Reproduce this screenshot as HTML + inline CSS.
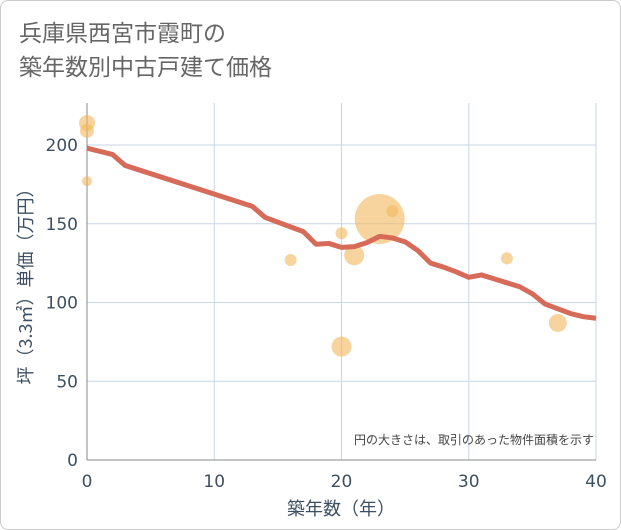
<!DOCTYPE html>
<html><head><meta charset="utf-8"><style>
html,body{margin:0;background:#fff;font-family:"DejaVu Sans","Noto Sans CJK JP",sans-serif}
#wrap{position:relative;width:619px;height:528px;border:1px solid #ccc;border-radius:8px;overflow:hidden;background:#fff}
#title{position:absolute;left:18px;top:13px;font-size:23px;line-height:34px;color:#666;font-family:"Noto Sans CJK JP",sans-serif}
</style></head><body>
<div id="wrap">
<div id="title">兵庫県西宮市霞町の<br>築年数別中古戸建て価格</div>
<svg id="chart" width="621" height="530" style="position:absolute;left:-1px;top:-1px"></svg>
</div>
<script>
const xTicks=[0,10,20,30,40];
const yTicks=[0,50,100,150,200];
const lineYears=[0,2,3,13,14,17,18,19,20,21,22,23,24,25,26,27,28,29,30,31,32,33,34,35,36,37,38,39,40];
const linePrices=[198,194,187,161,154,145,137,137.5,135,135.5,138,142,141,138.5,133,125,122.5,119.5,116,117.5,115,112.5,110,105.5,99,96,93,91,90];
const bubbleYears=[0,0,0,16,20,20,21,23,24,33,37];
const bubblePrices=[214,209,177,127,144,72,130,153,158,128,87];
const bubbleSizes=[8,7,5,6,6,10,10,25,6,6,9];
const NS="http://www.w3.org/2000/svg";
const svg=document.getElementById('chart');
const X0=87,X1=596,Y0=460,YT=103;
const xs=v=>X0+(X1-X0)*v/40;
const ys=v=>Y0-v*1.575;
function mk(t,a){const e=document.createElementNS(NS,t);for(const k in a)e.setAttribute(k,a[k]);svg.appendChild(e);return e;}
const bg=mk('rect',{x:X0,y:YT,width:X1-X0,height:Y0-YT,fill:'#fff'});


xTicks.forEach(t=>{
 const g=mk('line',{x1:xs(t),x2:xs(t),y1:YT,y2:Y0,stroke:'#c8d6e5','stroke-width':1});
 
 
 const l=mk('text',{x:xs(t),y:487,'text-anchor':'middle','font-size':17,fill:'#3d4f62','font-family':'DejaVu Sans, sans-serif'});l.textContent=t;
 
 
});
yTicks.forEach(t=>{
 const g=mk('line',{x1:X0,x2:X1,y1:ys(t),y2:ys(t),stroke:t===0?'#888':'#c8d6e5','stroke-width':1});
 
 
 const l=mk('text',{x:78,y:ys(t)+6,'text-anchor':'end','font-size':17,fill:'#3d4f62','font-family':'DejaVu Sans, sans-serif'});l.textContent=t;
 
 
});
const ax=mk('line',{x1:X0,x2:X0,y1:YT,y2:Y0,stroke:'#888'});


bubbleYears.forEach((yr,i)=>{
 const c=mk('circle',{cx:xs(yr),cy:ys(bubblePrices[i]),r:bubbleSizes[i],fill:'rgba(242,184,92,0.6)'});
 
 
});
const pts=lineYears.map((y,i)=>xs(y)+','+ys(linePrices[i])).join(' ');
const pl=mk('polyline',{points:pts,fill:'none',stroke:'#d66b5a','stroke-width':5,'stroke-linejoin':'round'});


const note=mk('text',{x:594,y:444,'text-anchor':'end','font-size':12,fill:'#444','font-family':'Noto Sans CJK JP, sans-serif'});note.textContent='円の大きさは、取引のあった物件面積を示す';


const xt=mk('text',{x:341,y:515,'text-anchor':'middle','font-size':18,fill:'#3d4f62','font-family':'Noto Sans CJK JP, sans-serif'});xt.textContent='築年数（年）';


const yt=mk('text',{x:0,y:0,'text-anchor':'middle','font-size':18,fill:'#3d4f62','font-family':'Noto Sans CJK JP, sans-serif',transform:'translate(32,282) rotate(-90)'});yt.textContent='坪（3.3㎡）単価（万円）';


</script>
</body></html>
